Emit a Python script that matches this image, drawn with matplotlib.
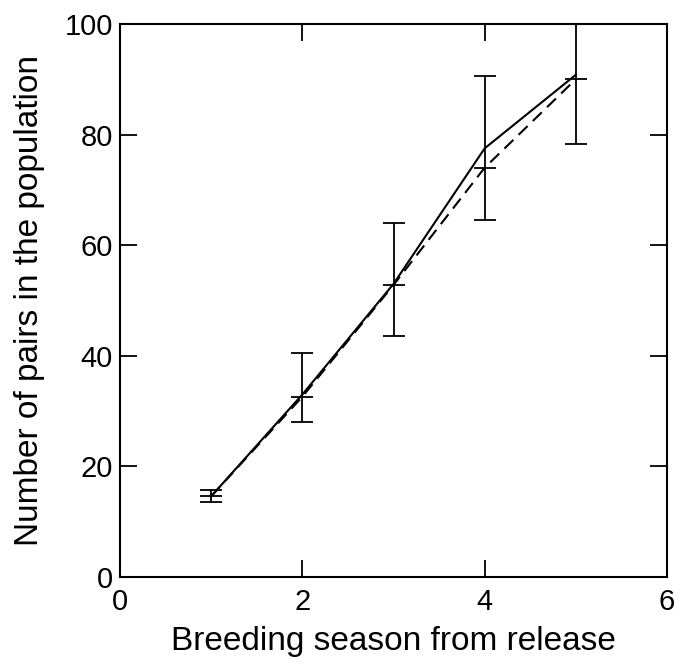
import numpy as np
import matplotlib.pyplot as plt

plt.rcParams['font.family'] = ['Liberation Sans', 'DejaVu Sans']

season = [1, 2, 3, 4, 5]
observed = [14.6, 33.0, 53.0, 77.5, 90.8]
predicted = [14.6, 32.6, 52.8, 74.0, 90.0]
err_low = [13.6, 28.0, 43.5, 64.5, 78.3]
err_high = [15.7, 40.5, 64.0, 90.5, 104.0]

pred = np.array(predicted)
yerr = [pred - np.array(err_low), np.array(err_high) - pred]

fig = plt.figure(figsize=(6.82, 6.64), dpi=100)
ax = fig.add_axes([0.176, 0.131, 0.802, 0.833])

ax.plot(season, observed, color='k', lw=1.5)
ax.plot(season, predicted, color='k', lw=1.5, ls=(0, (6, 3.5)))
ax.errorbar(season, predicted, yerr=yerr, fmt='none', ecolor='k', elinewidth=1.3,
            capsize=8, capthick=1.3)
ax.plot(season, predicted, ls='none', marker='_', ms=16, mew=1.3, color='k')

ax.set_xlim(0, 6)
ax.set_ylim(0, 100)
ax.set_xticks([0, 2, 4, 6])
ax.set_yticks([0, 20, 40, 60, 80, 100])
ax.tick_params(direction='in', length=12, width=1.3, top=True, right=True,
               labelsize=21)
ax.tick_params(axis='x', pad=8)
ax.tick_params(axis='y', pad=5)
for s in ax.spines.values():
    s.set_linewidth(1.5)

ax.set_xlabel("Breeding season from release", fontsize=24, labelpad=7)
ax.set_ylabel("Number of pairs in the population", fontsize=24, labelpad=14)

fig.savefig("out.png", dpi=100)
